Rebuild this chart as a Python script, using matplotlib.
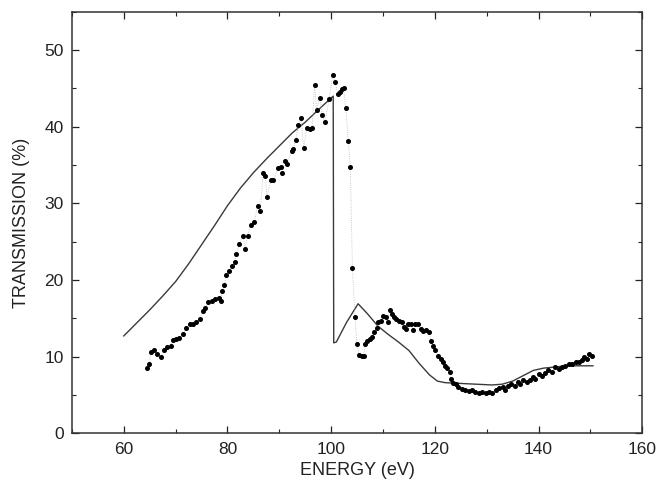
import numpy as np
import matplotlib
matplotlib.use('Agg')
import matplotlib.pyplot as plt
from matplotlib.ticker import MultipleLocator

# Measured transmission (points)
measEnergy = [64.5, 64.8, 65.3, 65.8, 66.5, 67.1, 67.8, 68.4, 69.1, 69.4,
              70.1, 70.7, 71.4, 72.0, 72.7, 73.4, 74.0, 74.7, 75.2, 75.7,
              76.3, 77.0, 77.6, 78.3, 78.7, 79.0, 79.4, 79.8, 80.3, 80.9,
              81.4, 81.7, 82.3, 83.0, 83.4, 83.9, 84.5, 85.2, 85.8, 86.3,
              86.9, 87.3, 87.6, 88.4, 88.8, 89.8, 90.3, 90.6, 91.1, 91.5,
              92.4, 92.7, 93.2, 93.7, 94.2, 94.7, 95.3, 95.9, 96.3, 96.8,
              97.2, 97.8, 98.3, 98.8, 99.6, 100.3, 100.8, 101.3, 101.7, 102.1,
              102.4, 102.8, 103.3, 103.7, 104.1, 104.6, 105.0, 105.4, 105.9, 106.3,
              106.6, 107.0, 107.5, 107.8, 108.3, 108.8, 109.1, 109.6, 110.1, 110.6,
              110.9, 111.3, 111.7, 112.1, 112.5, 113.1, 113.6, 114.0, 114.4, 114.9,
              115.4, 115.8, 116.2, 116.7, 117.3, 117.8, 118.3, 118.8, 119.3, 119.6,
              120.1, 120.6, 121.1, 121.6, 121.9, 122.4, 122.9, 123.2, 123.6, 124.0,
              124.5, 125.2, 125.8, 126.5, 127.2, 127.8, 128.5, 129.1, 129.8, 130.5,
              131.1, 131.8, 132.4, 133.1, 133.5, 134.1, 134.7, 135.4, 136.0, 136.5,
              137.0, 137.7, 138.3, 139.0, 139.4, 140.0, 140.6, 141.3, 141.9, 142.6,
              143.2, 143.9, 144.6, 145.2, 145.9, 146.5, 147.2, 147.8, 148.3, 148.8,
              149.3, 149.8, 150.3]
measTrans = [8.5, 9.0, 10.6, 10.8, 10.4, 10.0, 10.8, 11.2, 11.4, 12.2,
             12.3, 12.4, 12.9, 13.7, 14.2, 14.3, 14.5, 14.9, 16.0, 16.4,
             17.1, 17.3, 17.5, 17.7, 17.3, 18.6, 19.4, 20.7, 21.2, 21.8,
             22.4, 23.4, 24.7, 25.7, 24.1, 25.8, 27.2, 27.6, 29.7, 29.0,
             34.0, 33.6, 30.8, 33.1, 33.0, 34.6, 34.7, 34.0, 35.5, 35.2,
             36.8, 37.1, 38.3, 40.2, 41.2, 37.2, 39.8, 39.7, 39.8, 45.5,
             42.2, 43.8, 41.5, 40.6, 43.6, 46.8, 45.8, 44.3, 44.6, 44.9,
             45.1, 42.4, 38.1, 34.8, 21.6, 15.2, 11.6, 10.2, 10.1, 10.1,
             11.7, 12.0, 12.3, 12.5, 13.2, 13.8, 14.5, 14.7, 15.3, 15.2,
             14.5, 16.1, 15.5, 15.2, 14.9, 14.7, 14.5, 13.9, 13.6, 14.2,
             14.2, 13.5, 14.2, 14.2, 13.6, 13.4, 13.5, 13.2, 12.1, 11.4,
             10.8, 10.1, 9.7, 9.3, 8.8, 8.5, 8.0, 7.1, 6.6, 6.4,
             6.0, 5.8, 5.7, 5.5, 5.7, 5.4, 5.2, 5.4, 5.2, 5.4,
             5.2, 5.6, 5.9, 6.1, 5.7, 6.2, 6.4, 6.2, 6.7, 6.4,
             6.9, 6.7, 6.9, 7.3, 7.1, 7.7, 7.5, 7.8, 8.3, 8.0,
             8.6, 8.4, 8.7, 8.8, 9.0, 9.0, 9.3, 9.3, 9.6, 9.9,
             9.7, 10.3, 10.1]

# Calculated transmission (solid line)
calcEnergy = [60, 62.5, 65, 67.5, 70, 72.5, 75, 77.5, 80, 82.5,
              85, 87.5, 90, 92.5, 95, 97.5, 100.4, 100.5, 101, 103,
              105.2, 107, 109, 111, 113, 115, 117, 119, 120.5, 122,
              125, 128, 131, 133, 135, 137, 139, 141, 144, 147, 150.5]
calcTrans = [12.7, 14.4, 16.1, 17.9, 19.8, 22.1, 24.6, 27.1, 29.7, 32.0,
             34.0, 35.8, 37.5, 39.2, 40.6, 42.2, 44.0, 11.8, 11.9, 14.5,
             16.9, 15.6, 14.0, 12.9, 11.9, 10.8, 9.1, 7.6, 6.8, 6.6,
             6.5, 6.4, 6.3, 6.4, 6.8, 7.5, 8.2, 8.5, 8.7, 8.8, 8.8]

plt.rcParams['font.family'] = ['Liberation Sans', 'DejaVu Sans']

fig = plt.figure(figsize=(6.6, 4.94), dpi=100)
ax = fig.add_axes([0.109, 0.123, 0.864, 0.853])

ax.plot(calcEnergy, calcTrans, color='#3a3a3a', lw=1.0)
ax.plot(measEnergy, measTrans, color='#b8b8b8', lw=0.6, ls=':')
ax.plot(measEnergy, measTrans, ls='none', marker='o', ms=2.6, color='black')

ax.set_xlim(50, 160)
ax.set_ylim(0, 55)
ax.xaxis.set_minor_locator(MultipleLocator(10))
ax.yaxis.set_major_locator(MultipleLocator(10))
ax.yaxis.set_minor_locator(MultipleLocator(5))
ax.set_xticks([60, 80, 100, 120, 140, 160])
ax.tick_params(which='both', direction='in', top=True, right=True, labelsize=12.5,
               colors='#222222', pad=6)
ax.tick_params(which='major', length=5, width=0.9)
ax.tick_params(which='minor', length=3, width=0.8)
for s in ax.spines.values():
    s.set_linewidth(1.1)
    s.set_color('#333333')

ax.set_xlabel('ENERGY (eV)', fontsize=13, color='#222222', labelpad=4)
ax.set_ylabel('TRANSMISSION (%)', fontsize=13, color='#222222', labelpad=10)

fig.savefig('out.png', dpi=100)
